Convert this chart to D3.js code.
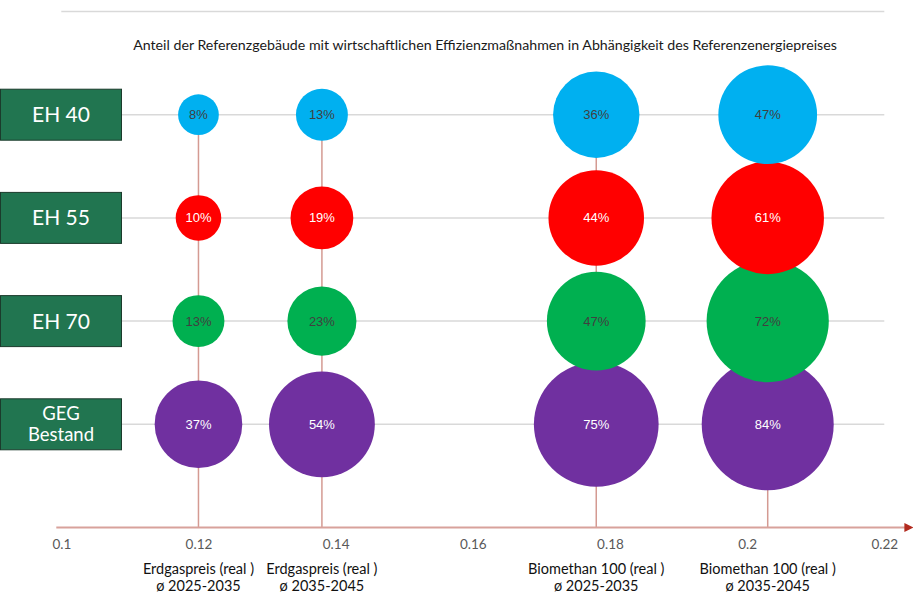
<!DOCTYPE html>
<html>
<head>
<meta charset="utf-8">
<style>
  body { margin: 0; background: #fff; }
  svg { display: block; font-family: Lato, "Open Sans", sans-serif; }
</style>
<script src="https://d3js.org/d3.v7.min.js"></script>
</head>
<body>
<script>
// Kategorien (Zeilen) und Energiepreise (Spalten)
const rowNames = ["EH 40", "EH 55", "EH 70", "GEG Bestand"];
const rowLevels = [4, 3, 2, 1];
const rowColors = ["#00b0f0", "#ff0000", "#00b050", "#7030a0"];
const rowTextColors = ["#404040", "#ffffff", "#404040", "#ffffff"];

const prices = [0.12, 0.138, 0.178, 0.203];
const priceLabels = [
  ["Erdgaspreis (real )", "ø 2025-2035"],
  ["Erdgaspreis (real )", "ø 2035-2045"],
  ["Biomethan 100 (real )", "ø 2025-2035"],
  ["Biomethan 100 (real )", "ø 2035-2045"]
];

// Anteil wirtschaftlicher Maßnahmen in %
const shareEH40 = [8, 13, 36, 47];
const shareEH55 = [10, 19, 44, 61];
const shareEH70 = [13, 23, 47, 72];
const shareGEG = [37, 54, 75, 84];
const shares = [shareEH40, shareEH55, shareEH70, shareGEG];

const xTicks = [0.1, 0.12, 0.14, 0.16, 0.18, 0.2, 0.22];
const yGrid = [1, 2, 3, 4, 5];

const title = "Anteil der Referenzgebäude mit wirtschaftlichen Effizienzmaßnahmen in Abhängigkeit des Referenzenergiepreises";

const W = 920, H = 601;

const x = d3.scaleLinear().domain([0.1, 0.22]).range([61.3, 884.3]);
const y = d3.scaleLinear().domain([0, 5]).range([527.5, 11.5]);
const r = d3.scaleSqrt().domain([0, 84]).range([0, 66]);

const svg = d3.select("body").append("svg")
  .attr("width", W)
  .attr("height", H);

// Gitterlinien
svg.append("g")
  .selectAll("line")
  .data(yGrid)
  .enter()
  .append("line")
  .attr("x1", x(0.1))
  .attr("x2", x(0.22))
  .attr("y1", d => y(d))
  .attr("y2", d => y(d))
  .attr("stroke", "#d9d9d9")
  .attr("stroke-width", 1.5);

// Senkrechte Linien zu den Preisen
svg.append("g")
  .selectAll("line")
  .data(prices)
  .enter()
  .append("line")
  .attr("x1", d => x(d))
  .attr("x2", d => x(d))
  .attr("y1", y(4))
  .attr("y2", y(0))
  .attr("stroke", "#d49a92")
  .attr("stroke-width", 1.5);

// x-Achse mit Pfeil
svg.append("defs").append("marker")
  .attr("id", "arrow")
  .attr("viewBox", "0 0 10 10")
  .attr("refX", 1)
  .attr("refY", 5)
  .attr("markerWidth", 4.5)
  .attr("markerHeight", 4.5)
  .attr("orient", "auto")
  .append("path")
  .attr("d", "M0,0 L10,5 L0,10 z")
  .attr("fill", "#b22a1e");

svg.append("line")
  .attr("x1", x(0.1) - 5)
  .attr("x2", x(0.22) + 21)
  .attr("y1", y(0))
  .attr("y2", y(0))
  .attr("stroke", "#d8a29b")
  .attr("stroke-width", 2)
  .attr("marker-end", "url(#arrow)");

const xAxis = d3.axisBottom(x)
  .tickValues(xTicks)
  .tickSize(0)
  .tickPadding(12)
  .tickFormat(d => String(+d.toFixed(2)));

const gx = svg.append("g")
  .attr("transform", `translate(0,${y(0)})`)
  .call(xAxis);
gx.select(".domain").remove();
gx.selectAll("text")
  .attr("fill", "#595959")
  .style("font-family", "Lato, sans-serif")
  .style("font-size", "13.5px");

// Blasen (unterste Zeile zuerst)
const order = [3, 2, 1, 0];
order.forEach(ri => {
  const g = svg.append("g");
  const data = shares[ri].map((v, i) => ({ v: v, p: prices[i] }));
  g.selectAll("circle")
    .data(data)
    .enter()
    .append("circle")
    .attr("cx", d => x(d.p))
    .attr("cy", y(rowLevels[ri]))
    .attr("r", d => r(d.v))
    .attr("fill", rowColors[ri]);
  g.selectAll("text")
    .data(data)
    .enter()
    .append("text")
    .attr("x", d => x(d.p))
    .attr("y", y(rowLevels[ri]))
    .attr("dy", "0.35em")
    .attr("text-anchor", "middle")
    .style("font-family", "'Liberation Sans', Arial, sans-serif")
    .style("font-size", "13px")
    .attr("fill", rowTextColors[ri])
    .text(d => d.v + "%");
});

// Zeilenbeschriftungen (grüne Kästen)
const boxes = svg.append("g")
  .selectAll("g")
  .data(rowNames)
  .enter()
  .append("g")
  .attr("transform", (d, i) => `translate(0,${y(rowLevels[i])})`);

boxes.append("rect")
  .attr("x", 0.5)
  .attr("y", -25.5)
  .attr("width", 121)
  .attr("height", 51)
  .attr("fill", "#217550")
  .attr("stroke", "#1b3b2c")
  .attr("stroke-width", 1);

boxes.each(function(d) {
  const words = d.split(" ");
  const el = d3.select(this);
  if (d.startsWith("EH")) {
    el.append("text")
      .attr("x", 61)
      .attr("dy", "0.36em")
      .attr("text-anchor", "middle")
      .attr("fill", "#fff")
      .style("font-size", "21px")
      .text(d);
  } else {
    el.selectAll("text.l")
      .data(words)
      .enter()
      .append("text")
      .attr("x", 61)
      .attr("y", (w, j) => (j - 0.5) * 21)
      .attr("dy", "0.36em")
      .attr("text-anchor", "middle")
      .attr("fill", "#fff")
      .style("font-size", "18.5px")
      .text(w => w);
  }
});

// Titel
svg.append("text")
  .attr("x", 485)
  .attr("y", 50)
  .attr("text-anchor", "middle")
  .attr("fill", "#1a1a1a")
  .style("font-size", "14.2px")
  .text(title);

// Beschriftung der Preise
const cats = svg.append("g")
  .selectAll("text")
  .data(priceLabels)
  .enter()
  .append("text")
  .attr("text-anchor", "middle")
  .attr("fill", "#111")
  .style("font-size", "14.5px");

cats.selectAll("tspan")
  .data((d, i) => d.map(t => ({ t: t, p: prices[i] })))
  .enter()
  .append("tspan")
  .attr("x", d => x(d.p))
  .attr("y", (d, j) => 574 + j * 16.5)
  .text(d => d.t);
</script>
</body>
</html>
